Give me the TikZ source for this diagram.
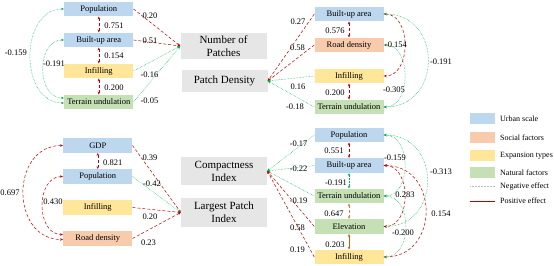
\documentclass[tikz,border=0pt]{standalone}
\usepackage{fontspec}
\setmainfont{Liberation Serif}
\usetikzlibrary{arrows.meta}

\definecolor{urban}{HTML}{BDD7EE}
\definecolor{social}{HTML}{F8CBAD}
\definecolor{expan}{HTML}{FFE699}
\definecolor{natur}{HTML}{C5E0B4}
\definecolor{depbox}{HTML}{E7E6E6}
\definecolor{posred}{HTML}{C00000}
\definecolor{neggreen}{HTML}{00B050}
\definecolor{posbrown}{HTML}{C55A11}

\begin{document}
\begin{tikzpicture}[x=1pt, y=1pt,
  fbox/.style={minimum width=69pt, minimum height=14.5pt, inner sep=0pt, font=\fontsize{8.5}{9}\selectfont},
  ubox/.style={fbox, fill=urban},
  sbox/.style={fbox, fill=social},
  ebox/.style={fbox, fill=expan},
  nbox/.style={fbox, fill=natur},
  dbox/.style={fill=depbox, minimum width=86pt, inner sep=0pt, align=center, font=\fontsize{11}{13}\selectfont},
  poslink/.style={posred, line width=0.5pt, densely dashed, -{Stealth[length=3pt,width=2.4pt]}},
  neglink/.style={neggreen, line width=0.5pt, densely dotted, -{Stealth[length=3pt,width=2.4pt]}},
  twoway/.style={{Stealth[length=3pt,width=2.4pt]}-{Stealth[length=3pt,width=2.4pt]}},
  lab/.style={font=\fontsize{8.5}{9}\selectfont, inner sep=0pt},
  lgd/.style={font=\fontsize{8}{9}\selectfont, inner sep=0pt, anchor=west},
]
  \useasboundingbox (0,0) rectangle (554,265);

  % top left: Number of Patches
  \node[ubox] (tlpop) at (98.8, 256) {Population};
  \node[ubox] (tlbua) at (98.8, 225) {Built-up area};
  \node[ebox] (tlinf) at (98.8, 194) {Infilling};
  \node[nbox] (tlter) at (98.8, 163) {Terrain undulation};
  \node[dbox, minimum height=26pt] (np) at (223.5, 219) {Number of\\Patches};

  % top right: Patch Density
  \node[dbox, minimum height=22pt] (pd) at (224.5, 184) {Patch Density};
  \node[ubox] (trbua) at (349, 251) {Built-up area};
  \node[sbox] (trroad) at (349, 220) {Road density};
  \node[ebox] (trinf) at (349, 189) {Infilling};
  \node[nbox] (trter) at (349, 158) {Terrain undulation};

  % bottom left: Largest Patch Index
  \node[ubox] (blgdp) at (97.8, 119.5) {GDP};
  \node[ubox] (blpop) at (97.8, 88.5) {Population};
  \node[ebox] (blinf) at (97.8, 57.5) {Infilling};
  \node[sbox] (blroad) at (97.8, 26.5) {Road density};
  \node[dbox, minimum height=29pt] (lpi) at (224, 52.5) {Largest Patch\\Index};

  % bottom right: Compactness Index
  \node[dbox, minimum height=28pt] (ci) at (224, 94) {Compactness\\Index};
  \node[ubox] (brpop) at (349, 130) {Population};
  \node[ubox] (brbua) at (349, 99.5) {Built-up area};
  \node[nbox] (brter) at (349, 69) {Terrain undulation};
  \node[nbox] (brele) at (349, 38.5) {Elevation};
  \node[ebox] (brinf) at (349, 8) {Infilling};

  % paths to Number of Patches
  \draw[poslink] (tlpop.east) -- (np.west);
  \draw[poslink] (tlbua.east) -- (np.west);
  \draw[neglink] (tlinf.east) -- (np.west);
  \draw[neglink] (tlter.east) -- (np.west);
  \draw[poslink, twoway] (tlpop.south) -- (tlbua.north);
  \draw[poslink, twoway] (tlbua.south) -- (tlinf.north);
  \draw[poslink, twoway] (tlinf.south) -- (tlter.north);
  \draw[neglink, twoway] (tlpop.west) .. controls +(-45,0) and +(-45,0) .. ([yshift=-1pt]tlter.west);
  \draw[neglink, twoway] (tlbua.west) .. controls +(-28,0) and +(-28,0) .. ([yshift=4pt]tlter.west);

  \node[lab] (l1) at (150, 249) {0.20};
  \node[lab] (l2) at (150, 224) {0.51};
  \node[lab] (l3) at (149.5, 190) {-0.16};
  \node[lab] (l4) at (149.5, 164.3) {-0.05};
  \node[lab] (l5) at (114, 239.3) {0.751};
  \node[lab] (l6) at (114, 209) {0.154};
  \node[lab] (l7) at (114, 177.3) {0.200};
  \node[lab] (l8) at (15.8, 212.3) {-0.159};
  \node[lab] (l9) at (54, 201) {-0.191};

  % paths to Patch Density
  \draw[poslink] (trbua.west) -- (pd.east);
  \draw[poslink] (trroad.west) -- (pd.east);
  \draw[neglink] (trinf.west) -- (pd.east);
  \draw[neglink] (trter.west) -- (pd.east);
  \draw[poslink, twoway] (trbua.south) -- (trroad.north);
  \draw[poslink, twoway] (trinf.south) -- (trter.north);
  \draw[poslink, twoway] (trbua.east) .. controls +(28,0) and +(28,0) .. (trinf.east);
  \draw[neglink, twoway] (trroad.east) .. controls +(28,0) and +(28,0) .. (trter.east);
  \draw[neglink, twoway] (trbua.east) .. controls +(59,0) and +(59,0) .. (trter.east);

  \node[lab] (m1) at (298, 243) {0.27};
  \node[lab] (m2) at (297.5, 217) {0.58};
  \node[lab] (m3) at (298, 178) {0.16};
  \node[lab] (m4) at (295, 158) {-0.18};
  \node[lab] (m5) at (335, 234) {0.576};
  \node[lab] (m6) at (335, 172) {0.200};
  \node[lab] (m7) at (396, 220) {-0.154};
  \node[lab] (m8) at (394, 175) {-0.305};
  \node[lab] (m9) at (441, 203) {-0.191};

  % paths to Largest Patch Index
  \draw[poslink] (blgdp.east) -- (lpi.west);
  \draw[neglink] (blpop.east) -- (lpi.west);
  \draw[poslink] (blinf.east) -- (lpi.west);
  \draw[poslink] (blroad.east) -- (lpi.west);
  \draw[poslink, twoway] (blgdp.south) -- (blpop.north);
  \draw[poslink, twoway] (blgdp.west) .. controls +(-53,0) and +(-53,0) .. ([yshift=-1pt]blroad.west);
  \draw[poslink, twoway] (blpop.west) .. controls +(-27.5,0) and +(-27.5,0) .. ([yshift=4pt]blroad.west);

  \node[lab] (n1) at (150, 107) {0.39};
  \node[lab] (n2) at (152, 81) {-0.42};
  \node[lab] (n3) at (150, 48.3) {0.20};
  \node[lab] (n4) at (148.5, 22.3) {0.23};
  \node[lab] (n5) at (112.7, 102.3) {0.821};
  \node[lab] (n6) at (10, 72.3) {0.697};
  \node[lab] (n7) at (53, 63.3) {0.430};

  % paths to Compactness Index
  \draw[neglink] (brpop.west) -- (ci.east);
  \draw[neglink] (brbua.west) -- (ci.east);
  \draw[neglink] (brter.west) -- (ci.east);
  \draw[poslink] (brele.west) -- (ci.east);
  \draw[poslink] (brinf.west) -- (ci.east);
  \draw[poslink, twoway] (brpop.south) -- (brbua.north);
  \draw[neglink, twoway] (brbua.south) -- (brter.north);
  \draw[poslink, twoway, posbrown!80] (brter.south) -- (brele.north);
  \draw[poslink, twoway, posbrown, solid, line width=0.8pt] (brele.south) -- (brinf.north);
  \draw[neglink, twoway] (brpop.east) .. controls +(28,0) and +(28,0) .. (brter.east);
  \draw[neglink, twoway] (brpop.east) .. controls +(58,0) and +(58,0) .. (brele.east);
  \draw[poslink, twoway] (brbua.east) .. controls +(28,0) and +(28,0) .. (brele.east);
  \draw[poslink, twoway] (brbua.east) .. controls +(56,0) and +(56,0) .. (brinf.east);
  \draw[neglink, twoway] (brter.east) .. controls +(29,0) and +(29,0) .. (brinf.east);

  \node[lab] (k1) at (298.6, 121.7) {-0.17};
  \node[lab] (k2) at (298.6, 96.7) {-0.22};
  \node[lab] (k3) at (298.6, 64.3) {-0.19};
  \node[lab] (k4) at (297.5, 37.3) {0.58};
  \node[lab] (k5) at (297.5, 15) {0.19};
  \node[lab] (k6) at (334, 114) {0.551};
  \node[lab] (k7) at (336, 82.3) {-0.191};
  \node[lab] (k8) at (334, 51.7) {0.647};
  \node[lab] (k9) at (335, 20) {0.203};
  \node[lab] (k10) at (395, 107.3) {-0.159};
  \node[lab] (k11) at (441, 93.3) {-0.313};
  \node[lab] (k12) at (405, 70.7) {0.283};
  \node[lab] (k13) at (441, 51.7) {0.154};
  \node[lab] (k14) at (403, 32.3) {-0.200};

  % legend
  \node[fill=urban, minimum width=25pt, minimum height=11pt] (gu) at (482.5, 146) {};
  \node[fill=social, minimum width=25pt, minimum height=11pt] (gs) at (482.5, 127.5) {};
  \node[fill=expan, minimum width=25pt, minimum height=11pt] (ge) at (482.5, 109.5) {};
  \node[fill=natur, minimum width=25pt, minimum height=11pt] (gn) at (482.5, 92.5) {};
  \coordinate (gneg1) at (470, 78.3);
  \coordinate (gneg2) at (495, 78.3);
  \coordinate (gpos1) at (470, 64);
  \coordinate (gpos2) at (495, 64);
  \draw[black!25, densely dotted, line width=0.5pt] (gneg1) -- (gneg2);
  \draw[posred, line width=0.8pt] (gpos1) -- (gpos2);
  \node[lgd] (tu) at (500, 146) {Urban scale};
  \node[lgd] (ts) at (500, 127.5) {Social factors};
  \node[lgd] (te) at (500, 109.5) {Expansion types};
  \node[lgd] (tn) at (500, 92.5) {Natural factors};
  \node[lgd] (tneg) at (500, 78.3) {Negative effect};
  \node[lgd] (tpos) at (500, 64) {Positive effect};
\end{tikzpicture}
\end{document}
